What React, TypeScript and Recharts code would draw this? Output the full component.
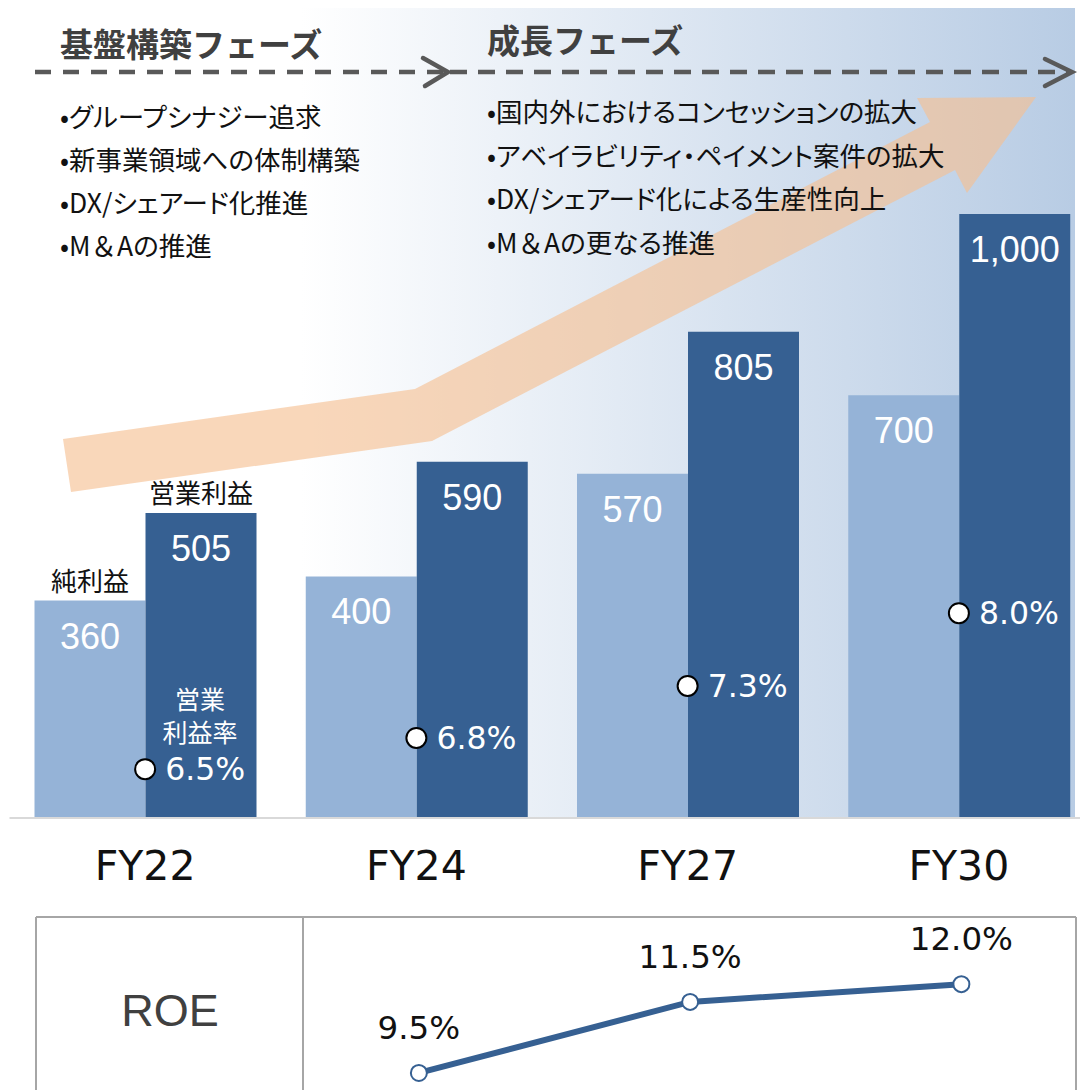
import { ComposedChart, Bar, Line, XAxis, YAxis, LabelList } from 'recharts'

// chart values
const categories = ['FY22', 'FY24', 'FY27', 'FY30']
const netProfit = [360, 400, 570, 700]
const operatingProfit = [505, 590, 805, 1000]
const operatingMargin = [6.5, 6.8, 7.3, 8.0]
const roe = [null, 9.5, 11.5, 12.0]

const foundationItems = [
  '•グループシナジー追求',
  '•新事業領域への体制構築',
  '•DX/シェアード化推進',
  '•M＆Aの推進',
]
const growthItems = [
  '•国内外におけるコンセッションの拡大',
  '•アベイラビリティ・ペイメント案件の拡大',
  '•DX/シェアード化による生産性向上',
  '•M＆Aの更なる推進',
]

const data = categories.map((name, i) => ({
  name,
  net: netProfit[i],
  op: operatingProfit[i],
  margin: operatingMargin[i],
  roe: roe[i],
}))

const LIGHT = '#95b3d7'
const DARK = '#366092'
const JP = '"Noto Sans CJK JP", sans-serif'
const NUM = '"Liberation Sans", Arial, sans-serif'
const PCT = '"DejaVu Sans", Verdana, sans-serif'

const MARGIN = { top: 214, right: 5.5, bottom: 22, left: 9.5 }

function barLabel(heading: string) {
  return (p: any) => {
    const cx = p.x + p.width / 2
    return (
      <g>
        <text x={cx} y={p.y + 48} textAnchor="middle" fill="#fff" fontSize={36} fontFamily={NUM}>
          {Number(p.value).toLocaleString('en-US')}
        </text>
        {p.index === 0 && (
          <text x={cx} y={p.y - 10} textAnchor="middle" fill="#111" fontSize={26} fontFamily={JP}>
            {heading}
          </text>
        )}
      </g>
    )
  }
}

const marginLabel = (p: any) => (
  <g>
    <text x={p.x + 20} y={p.y + 11} fill="#fff" fontSize={31.5} fontFamily={PCT}>
      {Number(p.value).toFixed(1)}%
    </text>
    {p.index === 0 && (
      <g fill="#fff" fontSize={25} fontFamily={JP} textAnchor="middle">
        <text x={p.x + 55} y={p.y - 60}>営業</text>
        <text x={p.x + 55} y={p.y - 27}>利益率</text>
      </g>
    )}
  </g>
)

const roeLabel = (p: any) =>
  p.value == null ? null : (
    <text x={p.x} y={p.y - 34} textAnchor="middle" fill="#111" fontSize={32.5} fontFamily={PCT}>
      {Number(p.value).toFixed(1)}%
    </text>
  )

const FyTick = (p: any) => (
  <text x={p.x} y={880} textAnchor="middle" fill="#111" fontSize={41} fontFamily={PCT}>
    {p.payload.value}
  </text>
)

// keep the full-width ＆ at full width while kana stay proportional
function Item({ text, x, y }: { text: string; x: number; y: number }) {
  const parts = text.split('＆')
  return (
    <text x={x} y={y}>
      {parts.map((s, i) => (
        <tspan key={i}>
          {i > 0 && <tspan style={{ fontFeatureSettings: 'normal' }}>＆</tspan>}
          {s}
        </tspan>
      ))}
    </text>
  )
}

function Backdrop() {
  return (
    <svg width={1080} height={1090} style={{ position: 'absolute', left: 0, top: 0 }}>
      <defs>
        <linearGradient id="bg" x1="0" y1="0" x2="1075" y2="0" gradientUnits="userSpaceOnUse">
          <stop offset="0.28" stopColor="#ffffff" />
          <stop offset="1" stopColor="#b8cce4" />
        </linearGradient>
      </defs>
      <rect x={0} y={8} width={1075} height={810} fill="url(#bg)" />
      <polygon
        points="63,439 415,389 930,122 917,98 1036,97 967,193 955,170 432,441 71,492"
        fill="#f6bf92"
        fillOpacity={0.63}
      />
    </svg>
  )
}

function Overlay() {
  return (
    <svg width={1080} height={1090} style={{ position: 'absolute', left: 0, top: 0 }}>
      <g fill="#404040" fontSize={33} fontWeight={700} fontFamily={JP}>
        <text x={60} y={57}>基盤構築フェーズ</text>
        <text x={487} y={53}>成長フェーズ</text>
      </g>
      <g stroke="#595959" strokeWidth={4.5} fill="none">
        <line x1={35} y1={72} x2={446} y2={72} strokeDasharray="16 12" />
        <polyline points="423,58 448,72 425,86" strokeLinecap="round" />
        <line x1={450} y1={72} x2={1070} y2={72} strokeDasharray="17 11" />
        <polyline points="1045,59 1072,72 1045,86" strokeLinecap="round" />
      </g>
      <g fill="#111" fontSize={26.5} fontFamily={JP} style={{ fontFeatureSettings: '"palt"' }}>
        {foundationItems.map((t, i) => (
          <Item key={t} text={t} x={60} y={127 + i * 43} />
        ))}
        {growthItems.map((t, i) => (
          <Item key={t} text={t} x={487} y={122 + i * 43.5} />
        ))}
      </g>
      {/* ROE table frame */}
      <g stroke="#a6a6a6" strokeWidth={2} fill="none">
        <line x1={36} y1={917} x2={1076} y2={917} />
        <line x1={36} y1={917} x2={36} y2={1090} />
        <line x1={303} y1={917} x2={303} y2={1090} />
        <line x1={1076} y1={917} x2={1076} y2={1090} />
      </g>
      <text x={170} y={1026} textAnchor="middle" fill="#404040" fontSize={45} fontFamily={NUM}>
        ROE
      </text>
    </svg>
  )
}

export default function App() {
  return (
    <div style={{ position: 'absolute', left: 0, top: 0, width: 1080, height: 1090, overflow: 'hidden', background: '#fff' }}>
      <Backdrop />
      <div style={{ position: 'absolute', left: 0, top: 0 }}>
        <ComposedChart width={1100} height={900} data={data} margin={MARGIN} barGap={0}>
          <XAxis
            dataKey="name"
            height={60}
            axisLine={{ stroke: '#d9d9d9', strokeWidth: 2 }}
            tickLine={false}
            tick={<FyTick />}
            interval={0}
          />
          <YAxis yAxisId="v" domain={[0, 1000]} hide allowDataOverflow />
          <YAxis yAxisId="m" domain={[6.03, 11.84]} hide allowDataOverflow />
          <Bar yAxisId="v" dataKey="net" fill={LIGHT} barSize={111} isAnimationActive={false}>
            <LabelList dataKey="net" content={barLabel('純利益')} />
          </Bar>
          <Bar yAxisId="v" dataKey="op" fill={DARK} barSize={111} isAnimationActive={false}>
            <LabelList dataKey="op" content={barLabel('営業利益')} />
          </Bar>
          <Line
            yAxisId="m"
            dataKey="margin"
            stroke="none"
            dot={{ r: 10, fill: '#fff', stroke: '#000', strokeWidth: 2 }}
            activeDot={false}
            label={marginLabel}
            isAnimationActive={false}
          />
        </ComposedChart>
      </div>
      <Overlay />
      <div style={{ position: 'absolute', left: 0, top: 900 }}>
        <ComposedChart width={1100} height={190} data={data} margin={{ top: 0, right: 3, bottom: 0, left: 12 }}>
          <XAxis dataKey="name" scale="band" hide />
          <YAxis domain={[9.02, 14.37]} hide allowDataOverflow />
          <Line
            dataKey="roe"
            stroke={DARK}
            strokeWidth={6}
            dot={{ r: 8, fill: '#fff', stroke: DARK, strokeWidth: 2 }}
            activeDot={false}
            label={roeLabel}
            isAnimationActive={false}
          />
        </ComposedChart>
      </div>
    </div>
  )
}
